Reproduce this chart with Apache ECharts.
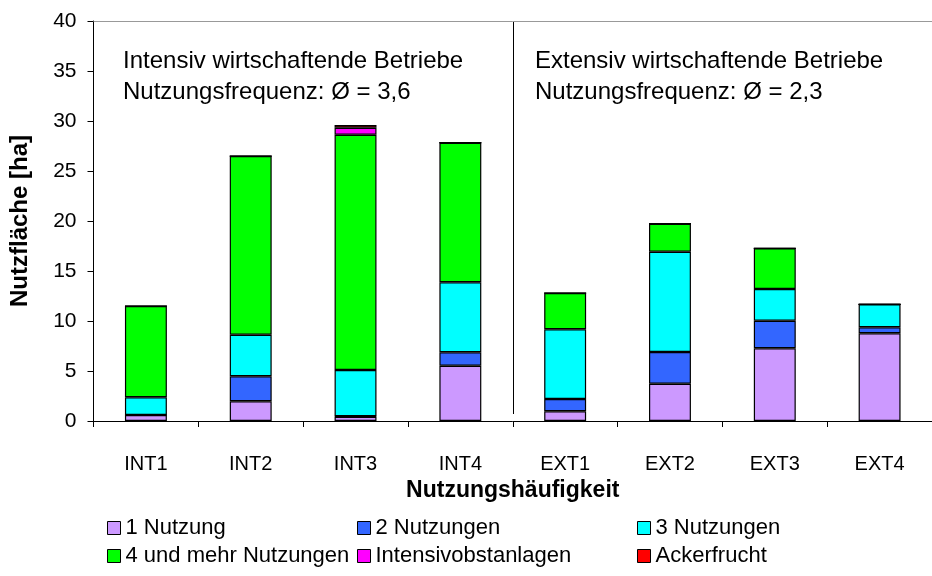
<!DOCTYPE html>
<html>
<head>
<meta charset="utf-8">
<script src="https://cdn.jsdelivr.net/npm/echarts@6/dist/echarts.min.js"></script>
<style>
  html, body { margin: 0; padding: 0; background: #fff; }
  #chart { width: 932px; height: 576px; }
</style>
</head>
<body>
<div id="chart"></div>
<script>
const font = 'Liberation Sans, Arial, sans-serif'

const categories = ['INT1', 'INT2', 'INT3', 'INT4', 'EXT1', 'EXT2', 'EXT3', 'EXT4']
const yTicks = [0, 40, 5] // min, max, interval

// Nutzfläche [ha] je Nutzungshäufigkeit
const nutzung1 = [0.6, 1.97, 0.43, 5.53, 0.97, 3.73, 7.27, 8.77]
const nutzung2 = [0, 2.5, 0.05, 1.34, 1.23, 3.17, 2.76, 0.6]
const nutzung3 = [1.77, 4.16, 4.62, 7.0, 6.97, 10.03, 3.17, 2.3]
const nutzung4 = [9.13, 17.87, 23.53, 13.96, 3.63, 2.8, 4.07, 0]
const obstanlagen = [0, 0, 0.7, 0, 0, 0, 0, 0]
const ackerfrucht = [0, 0, 0.27, 0, 0, 0, 0, 0]

const seriesDefs = [
  { name: '1 Nutzung', data: nutzung1, color: '#CC99FF' },
  { name: '2 Nutzungen', data: nutzung2, color: '#3366FF' },
  { name: '3 Nutzungen', data: nutzung3, color: '#00FFFF' },
  { name: '4 und mehr Nutzungen', data: nutzung4, color: '#00FF00' },
  { name: 'Intensivobstanlagen', data: obstanlagen, color: '#FF00FF' },
  { name: 'Ackerfrucht', data: ackerfrucht, color: '#FF0000' }
]

const groupTexts = [
  { left: 123, lines: ['Intensiv wirtschaftende Betriebe', 'Nutzungsfrequenz: Ø = 3,6'] },
  { left: 535, lines: ['Extensiv wirtschaftende Betriebe', 'Nutzungsfrequenz: Ø = 2,3'] }
]

const myChart = echarts.init(document.getElementById('chart'))

// legend in 3 Spalten, je 2 Einträge
function legendColumn (left, names) {
  return {
    orient: 'vertical',
    left,
    top: 517,
    padding: 0,
    itemWidth: 13,
    itemHeight: 13,
    itemGap: 6,
    icon: 'rect',
    itemStyle: { borderColor: '#000', borderWidth: 1 },
    textStyle: { fontFamily: font, fontSize: 22, color: '#000' },
    data: names
  }
}

myChart.setOption({
  animation: false,
  textStyle: { fontFamily: font },
  grid: { left: 93.5, top: 21, width: 851, height: 400, containLabel: false },
  legend: [
    legendColumn(107, ['1 Nutzung', '4 und mehr Nutzungen']),
    legendColumn(357, ['2 Nutzungen', 'Intensivobstanlagen']),
    legendColumn(637, ['3 Nutzungen', 'Ackerfrucht'])
  ],
  xAxis: [{
    type: 'category',
    data: categories,
    name: 'Nutzungshäufigkeit',
    nameLocation: 'middle',
    nameGap: 57,
    nameTextStyle: { fontFamily: font, fontSize: 23, fontWeight: 'bold', color: '#000' },
    axisLine: { lineStyle: { color: '#000', width: 1 } },
    axisTick: { show: true, length: 6, lineStyle: { color: '#000' } },
    axisLabel: { fontFamily: font, fontSize: 20, color: '#000', margin: 33 },
    splitLine: { show: false }
  }, {
    type: 'category',
    position: 'top',
    data: categories,
    axisLine: { lineStyle: { color: '#999', width: 1 } },
    axisTick: { show: false },
    axisLabel: { show: false }
  }],
  yAxis: {
    type: 'value',
    min: yTicks[0],
    max: yTicks[1],
    interval: yTicks[2],
    name: 'Nutzfläche [ha]',
    nameLocation: 'middle',
    nameGap: 61,
    nameTextStyle: { fontFamily: font, fontSize: 24, fontWeight: 'bold', color: '#000' },
    axisLine: { show: true, lineStyle: { color: '#000', width: 1 } },
    axisTick: { show: true, length: 6, lineStyle: { color: '#000' } },
    axisLabel: { fontFamily: font, fontSize: 21, color: '#000', margin: 17 },
    splitLine: { show: false }
  },
  series: seriesDefs.map(s => ({
    name: s.name,
    type: 'bar',
    stack: 'total',
    barWidth: '40%',
    data: s.data,
    itemStyle: { color: s.color, borderColor: '#000', borderWidth: 1.2 }
  }))
})

// Trennlinie zwischen INT und EXT, plus Gruppentexte
const xLeft = myChart.convertToPixel({ xAxisIndex: 0 }, 'INT4')
const xRight = myChart.convertToPixel({ xAxisIndex: 0 }, 'EXT1')
const yTop = myChart.convertToPixel({ yAxisIndex: 0 }, 40)
const yBottom = myChart.convertToPixel({ yAxisIndex: 0 }, 0.7)
const divX = Math.round((xLeft + xRight) / 2) + 0.5

myChart.setOption({
  graphic: [{
    type: 'line',
    shape: { x1: divX, y1: yTop, x2: divX, y2: yBottom },
    style: { stroke: '#000', lineWidth: 1 }
  }].concat(groupTexts.map(g => ({
    type: 'text',
    left: g.left,
    top: 46,
    style: {
      text: g.lines.join('\n'),
      font: '24px ' + font,
      lineHeight: 31,
      fill: '#000'
    }
  })))
})
</script>
</body>
</html>
